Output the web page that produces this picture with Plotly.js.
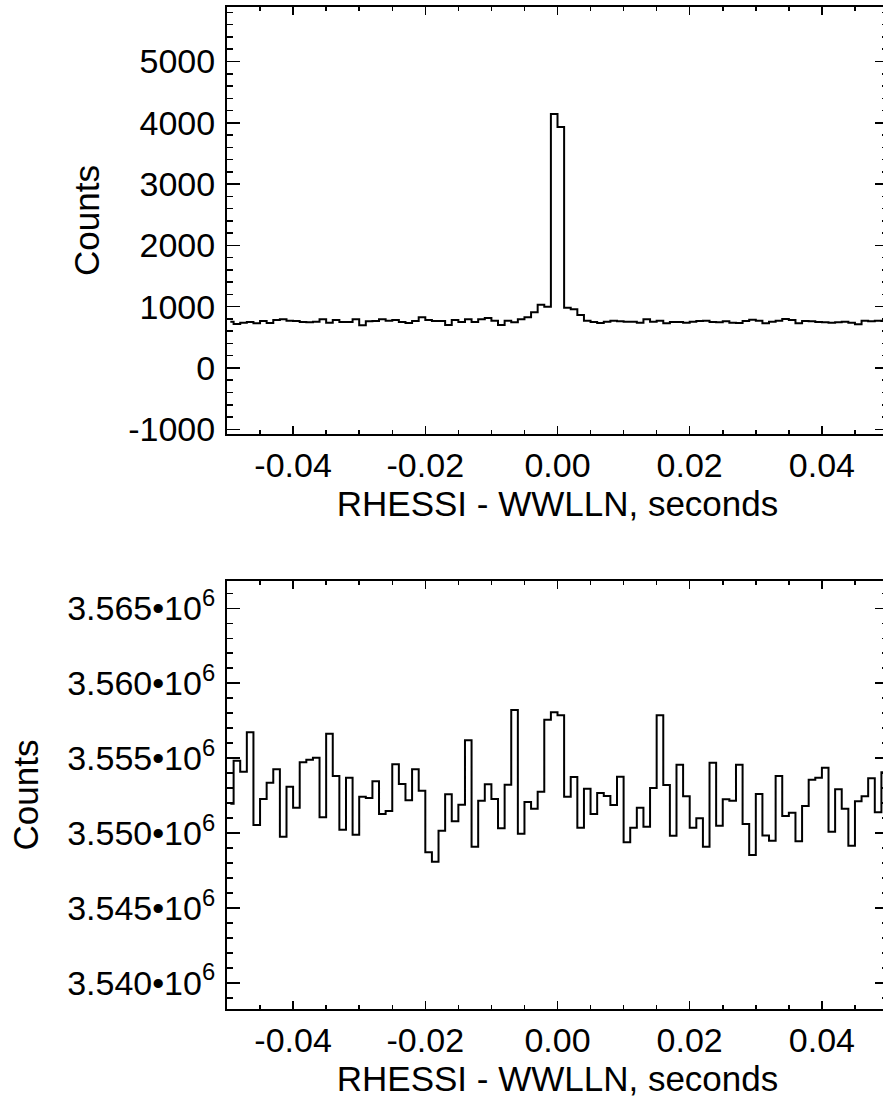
<!DOCTYPE html>
<html>
<head>
<meta charset="utf-8">
<script src="https://cdn.plot.ly/plotly-3.0.1.min.js"></script>
<style>
html, body { margin: 0; padding: 0; overflow: hidden; background: #fff; }
#chart { width: 888px; height: 1099px; }
</style>
</head>
<body>
<div id="chart"></div>
<script>
// Histogram bins: 100 bins of 0.001 s from -0.05 to 0.05
const binStart = -0.05;
const binWidth = 0.001;

// Top panel: counts per bin (RHESSI - WWLLN)
const topCounts = [
  755,717,739,750,728,766,734,783,793,772,
  766,750,745,755,793,739,783,750,750,793,
  696,761,766,793,772,783,750,734,766,826,
  783,766,766,701,783,750,793,750,793,815,
  772,701,772,745,793,826,908,1033,1000,4143,
  3931,984,957,864,772,750,734,755,772,761,
  755,755,739,793,755,772,728,750,750,739,
  755,766,772,750,745,761,739,734,766,788,
  772,728,755,772,799,783,728,766,761,750,
  745,739,745,755,739,712,772,761,772,765
];

// Bottom panel: counts per bin
const bottomCounts = [
  3551950,3554828,3554094,3556720,3550534,3552270,3553360,3554250,3549755,3553093,
  3551691,3554717,3554895,3555029,3551046,3556631,3553805,3550223,3553694,3549889,
  3552425,3552336,3553449,3551268,3551469,3554584,3553271,3552181,3554250,3552826,
  3548709,3548086,3550156,3552581,3550779,3551891,3556186,3549088,3552158,3553249,
  3552270,3550312,3553226,3558210,3549955,3552069,3551624,3552759,3557565,3558055,
  3557854,3552425,3553738,3550356,3552959,3551268,3552670,3552470,3551869,3553760,
  3549377,3550356,3551691,3550423,3553004,3557854,3553204,3549822,3554561,3552448,
  3550350,3550979,3549088,3554695,3550490,3552250,3552160,3554560,3550600,3548530,
  3552600,3549840,3549490,3553800,3551130,3551360,3549450,3551800,3553560,3553694,
  3554361,3550089,3552915,3551624,3549154,3552114,3552448,3553649,3551380,3554050
];

// Tick labels
const xTickVals = [-0.04, -0.02, 0.0, 0.02, 0.04];
const xTickText = ['-0.04', '-0.02', '0.00', '0.02', '0.04'];
const yTopTickVals = [-1000, 0, 1000, 2000, 3000, 4000, 5000];
const yTopTickText = ['-1000', '0', '1000', '2000', '3000', '4000', '5000'];
const yBotTickVals = [3540000, 3545000, 3550000, 3555000, 3560000, 3565000];
const yBotTickText = ['3.540•10<sup>6</sup>', '3.545•10<sup>6</sup>', '3.550•10<sup>6</sup>',
                      '3.555•10<sup>6</sup>', '3.560•10<sup>6</sup>', '3.565•10<sup>6</sup>'];
const xTitle = 'RHESSI - WWLLN, seconds';
const yTitle = 'Counts';

const binCenters = topCounts.map((_, i) => binStart + binWidth * (i + 0.5));

const FONT = 'Liberation Sans, Arial, Helvetica, sans-serif';
const lineStyle = { color: '#000', width: 2, shape: 'hvh' };

const traces = [
  { x: binCenters, y: topCounts, type: 'scatter', mode: 'lines', line: lineStyle,
    xaxis: 'x', yaxis: 'y', hoverinfo: 'skip' },
  { x: binCenters, y: bottomCounts, type: 'scatter', mode: 'lines', line: lineStyle,
    xaxis: 'x2', yaxis: 'y2', hoverinfo: 'skip' }
];

function xAxis(anchor) {
  return {
    anchor: anchor, range: [-0.05, 0.05], tickmode: 'array',
    tickvals: xTickVals, ticktext: xTickText,
    ticks: 'inside', ticklen: 8, tickwidth: 1.5, tickcolor: '#000',
    minor: { tickmode: 'linear', tick0: 0, dtick: 0.005, ticks: 'inside', ticklen: 4, tickwidth: 1.5, tickcolor: '#000' },
    showline: true, linewidth: 2, linecolor: '#000', mirror: 'allticks',
    showgrid: false, zeroline: false,
    tickfont: { family: FONT, size: 34, color: '#000' },
    title: { text: xTitle, font: { family: FONT, size: 35, color: '#000' }, standoff: 9 },
    fixedrange: true
  };
}
function yAxis(anchor, domain, range, vals, text, minorStep) {
  return {
    anchor: anchor, domain: domain, range: range, tickmode: 'array',
    tickvals: vals, ticktext: text,
    ticks: 'inside', ticklen: 13, tickwidth: 1.5, tickcolor: '#000',
    minor: { tickmode: 'linear', tick0: 0, dtick: minorStep, ticks: 'inside', ticklen: 6, tickwidth: 1.5, tickcolor: '#000' },
    showline: true, linewidth: 2, linecolor: '#000', mirror: 'allticks',
    showgrid: false, zeroline: false,
    ticklabelstandoff: 3,
    tickfont: { family: FONT, size: 34, color: '#000' },
    title: { text: yTitle, font: { family: FONT, size: 35, color: '#000' }, standoff: 18 },
    fixedrange: true
  };
}

const layout = {
  width: 888, height: 1099,
  margin: { l: 227, r: 0, t: 7, b: 90 },
  paper_bgcolor: '#fff', plot_bgcolor: '#fff',
  showlegend: false,
  xaxis: xAxis('y'),
  yaxis: yAxis('x', [0.57385, 1], [-1077, 5889], yTopTickVals, yTopTickText, 200),
  xaxis2: xAxis('y2'),
  yaxis2: yAxis('x2', [0, 0.42715], [3538250, 3566823], yBotTickVals, yBotTickText, 1000)
};

Plotly.newPlot('chart', traces, layout, { staticPlot: true, displayModeBar: false });
</script>
</body>
</html>
